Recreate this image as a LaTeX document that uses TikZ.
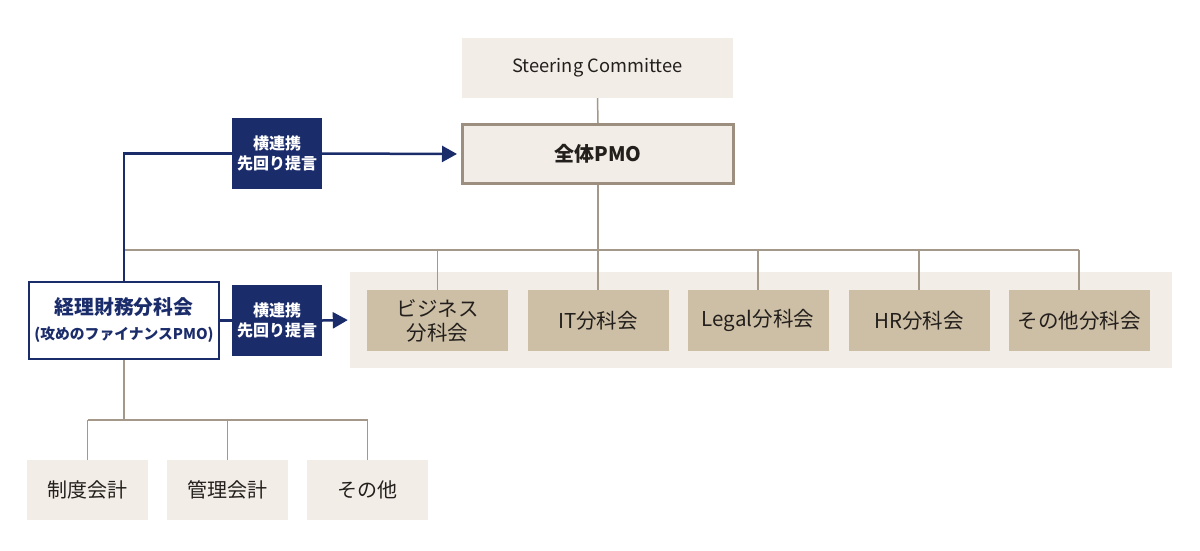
\documentclass[tikz,border=0pt]{standalone}
\usepackage{fontspec}
\setmainfont{Noto Sans CJK JP}
\usetikzlibrary{arrows.meta}
\definecolor{beige}{HTML}{F2EDE6}
\definecolor{tan}{HTML}{CDBFA6}
\definecolor{navy}{HTML}{1B2C6B}
\definecolor{lgray}{HTML}{A39889}
\definecolor{pmoedge}{HTML}{9C8F7F}
\definecolor{txt}{HTML}{231F1C}
\tikzset{
  lightbox/.style={fill=beige, draw=none, inner sep=0pt, text=txt, align=center},
  tanbox/.style={fill=tan, draw=none, inner sep=0pt, minimum width=141pt, minimum height=61pt, text=txt, font=\fontsize{20.5}{24}\selectfont, align=center},
  navybox/.style={fill=navy, draw=none, inner sep=0pt, minimum width=90pt, minimum height=71pt, text=white, font=\bfseries\fontsize{16}{20}\selectfont, align=center},
  botbox/.style={lightbox, minimum width=121pt, minimum height=60pt, font=\fontsize{20}{24}\selectfont},
  gline/.style={draw=lgray, line width=1.5pt},
  nline/.style={draw=navy, line width=2.5pt},
  narrow/.style={nline, -{Triangle[length=15pt,width=16pt]}}
}
\begin{document}
\begin{tikzpicture}[x=1pt,y=-1pt]
\useasboundingbox (0,0) rectangle (1200,550);
% top
\node[lightbox, minimum width=271pt, minimum height=60pt, font=\fontsize{18.3}{22}\selectfont] (steer) at (597.5,68) {Steering Committee};
\node[lightbox, draw=pmoedge, line width=3pt, minimum width=271pt, minimum height=59pt, font=\bfseries\fontsize{20}{24}\selectfont] (pmo) at (598,154) {全体PMO};
% panel
\node[fill=beige, draw=none, inner sep=0pt, minimum width=822pt, minimum height=96pt] (panel) at (761,320) {};
\node[tanbox] (s1) at (437.5,320.5) {ビジネス\\分科会};
\node[tanbox] (s2) at (598,320.5) {IT分科会};
\node[tanbox] (s3) at (758,320.5) {Legal分科会};
\node[tanbox] (s4) at (919,320.5) {HR分科会};
\node[tanbox] (s5) at (1079,320.5) {その他分科会};
% left
\node[fill=white, draw=navy, line width=2pt, inner sep=0pt, minimum width=190pt, minimum height=77pt, align=center, text=navy, font=\bfseries\fontsize{19.8}{25}\selectfont] (keiri) at (124,320.5)
  {経理財務分科会\\{\fontsize{14.8}{25}\selectfont (攻めのファイナンスPMO)}};
\node[navybox] (lbl1) at (277,153.5) {横連携\\先回り提言};
\node[navybox] (lbl2) at (277,320.5) {横連携\\先回り提言};
% bottom
\node[botbox] (b1) at (87.5,490) {制度会計};
\node[botbox] (b2) at (227.5,490) {管理会計};
\node[botbox] (b3) at (367.5,490) {その他};
% coordinates
\coordinate (hl) at (124,250);
\coordinate (hr) at (1079,250);
\coordinate (bl) at (87.5,420);
\coordinate (br) at (367.5,420);
% gray connectors
\draw[gline] (steer.south) -- (pmo.north);
\draw[gline] (pmo.south) -- (pmo.south |- hl);
\draw[gline] (hl) -- (hr);
\foreach \s in {s1,s2,s3,s4,s5} \draw[gline] (\s.north |- hl) -- (\s.north);
\draw[gline] (keiri.south) -- (keiri.south |- bl);
\draw[gline] (bl) -- (br);
\foreach \b in {b1,b2,b3} \draw[gline] (\b.north |- bl) -- (\b.north);
% navy connectors
\draw[nline] (keiri.north) |- (lbl1.west);
\draw[narrow, shorten >=4pt] (lbl1.east) -- (pmo.west);
\draw[nline] (keiri.east) -- (lbl2.west);
\draw[narrow, shorten >=2pt] (lbl2.east) -- (panel.west);
\end{tikzpicture}
\end{document}
